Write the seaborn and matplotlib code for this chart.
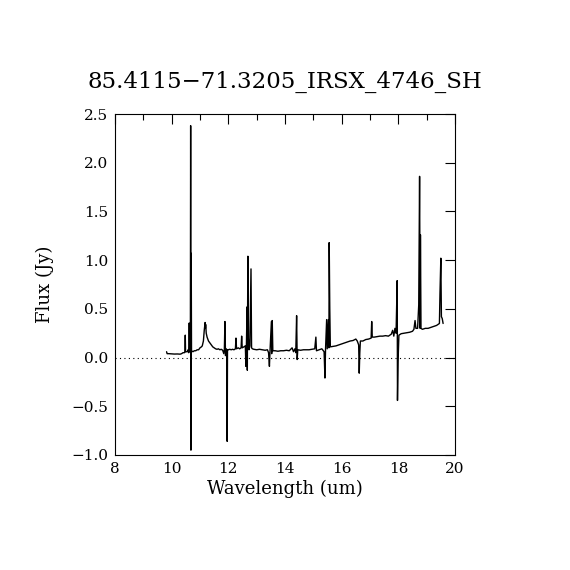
import matplotlib
matplotlib.use("Agg")
import matplotlib.pyplot as plt
from matplotlib.ticker import MultipleLocator, FuncFormatter
import seaborn as sns
import pandas as pd

title = "85.4115\u221271.3205_IRSX_4746_SH"
x_label = "Wavelength (um)"
y_label = "Flux (Jy)"

wavelength = [
    9.82, 9.84, 9.90, 10.00, 10.10, 10.20, 10.30, 10.35, 10.40, 10.45,
    10.47, 10.48, 10.49, 10.55, 10.58, 10.60, 10.62, 10.64, 10.66, 10.67,
    10.68, 10.69, 10.70, 10.75, 10.80, 10.85, 10.90, 10.95, 11.00, 11.05,
    11.08, 11.12, 11.15, 11.17, 11.18, 11.19, 11.20, 11.22, 11.25, 11.30,
    11.35, 11.40, 11.45, 11.50, 11.55, 11.60, 11.65, 11.70, 11.75, 11.80,
    11.84, 11.86, 11.88, 11.90, 11.92, 11.95, 11.96, 11.97, 12.00, 12.05,
    12.10, 12.15, 12.20, 12.25, 12.27, 12.29, 12.35, 12.40, 12.45, 12.47,
    12.49, 12.55, 12.60, 12.62, 12.64, 12.66, 12.67, 12.69, 12.71, 12.73,
    12.76, 12.80, 12.82, 12.85, 12.90, 13.00, 13.10, 13.20, 13.30, 13.38,
    13.42, 13.45, 13.47, 13.50, 13.52, 13.53, 13.55, 13.57, 13.65, 13.75,
    13.85, 13.95, 14.05, 14.15, 14.25, 14.30, 14.35, 14.38, 14.41, 14.43,
    14.45, 14.55, 14.65, 14.75, 14.85, 14.95, 15.05, 15.09, 15.11, 15.20,
    15.30, 15.38, 15.41, 15.43, 15.47, 15.49, 15.53, 15.55, 15.56, 15.58,
    15.60, 15.70, 15.80, 15.90, 16.00, 16.10, 16.20, 16.30, 16.40, 16.50,
    16.55, 16.60, 16.62, 16.64, 16.66, 16.75, 16.85, 16.95, 17.04, 17.06,
    17.08, 17.15, 17.25, 17.35, 17.45, 17.55, 17.65, 17.75, 17.80, 17.84,
    17.88, 17.92, 17.96, 17.97, 17.99, 18.02, 18.10, 18.20, 18.30, 18.40,
    18.50, 18.55, 18.59, 18.62, 18.68, 18.72, 18.75, 18.77, 18.78, 18.80,
    18.85, 18.95, 19.05, 19.15, 19.25, 19.35, 19.45, 19.47, 19.50, 19.52,
    19.55, 19.58,
]

flux = [
    0.06, 0.04, 0.040, 0.038, 0.036, 0.037, 0.035, 0.04, 0.05, 0.05,
    0.06, 0.23, 0.06, 0.06, 0.08, 0.05, 0.355, 0.06, 0.07, 2.38,
    -0.95, 1.07, 0.07, 0.06, 0.07, 0.07, 0.08, 0.08, 0.10, 0.11,
    0.12, 0.17, 0.28, 0.33, 0.36, 0.30, 0.34, 0.25, 0.21, 0.17,
    0.15, 0.13, 0.11, 0.10, 0.09, 0.085, 0.09, 0.08, 0.085, 0.075,
    0.04, 0.08, 0.37, 0.02, 0.09, 0.08, -0.86, 0.08, 0.08, 0.085,
    0.08, 0.085, 0.08, 0.09, 0.20, 0.09, 0.10, 0.09, 0.10, 0.22,
    0.10, 0.11, 0.12, -0.09, 0.15, 0.52, -0.13, 1.04, 0.20, 0.08,
    0.12, 0.91, 0.10, 0.09, 0.085, 0.08, 0.085, 0.08, 0.075, 0.08,
    0.05, -0.09, 0.06, 0.25, 0.37, 0.04, 0.38, 0.07, 0.07, 0.065,
    0.07, 0.07, 0.075, 0.07, 0.10, 0.06, 0.09, 0.05, 0.43, -0.02,
    0.08, 0.075, 0.08, 0.08, 0.08, 0.085, 0.09, 0.21, 0.07, 0.08,
    0.09, 0.06, -0.21, 0.08, 0.39, 0.09, 0.39, 0.10, 1.18, 0.51,
    0.11, 0.115, 0.12, 0.13, 0.14, 0.15, 0.16, 0.17, 0.175, 0.19,
    0.17, 0.13, -0.16, 0.05, 0.17, 0.17, 0.185, 0.19, 0.20, 0.37,
    0.21, 0.21, 0.215, 0.22, 0.22, 0.225, 0.22, 0.24, 0.28, 0.22,
    0.30, 0.25, 0.79, -0.44, -0.04, 0.23, 0.245, 0.25, 0.255, 0.26,
    0.27, 0.29, 0.38, 0.30, 0.30, 0.54, 1.86, 0.30, 1.26, 0.30,
    0.29, 0.30, 0.30, 0.31, 0.32, 0.33, 0.35, 0.66, 1.02, 0.42,
    0.40, 0.35,
]

df = pd.DataFrame({"wavelength": wavelength, "flux": flux})

sns.set_theme(style="white")
plt.rcParams["font.family"] = ["DejaVu Serif"]
plt.rcParams["axes.unicode_minus"] = True

fig = plt.figure(figsize=(5.7, 5.7), dpi=100)
ax = fig.add_axes([115 / 570, 1 - 455 / 570, 340 / 570, 341 / 570])

sns.lineplot(data=df, x="wavelength", y="flux", ax=ax, sort=False,
             estimator=None, color="black", linewidth=1.0)
ax.axhline(0.0, color="black", linestyle=(0, (1, 3)), linewidth=0.8)

ax.set_xlim(8, 20)
ax.set_ylim(-1.0, 2.5)
ax.xaxis.set_major_locator(MultipleLocator(2))
ax.xaxis.set_minor_locator(MultipleLocator(1))
ax.yaxis.set_major_locator(MultipleLocator(0.5))
ax.yaxis.set_major_formatter(
    FuncFormatter(lambda v, p: f"{v:.1f}".replace("-", "\u2212")))
ax.tick_params(axis="both", which="both", direction="in", top=True,
               right=True, colors="black", labelsize=11, pad=5)
ax.tick_params(which="major", length=7, width=0.8)
ax.tick_params(which="minor", length=4, width=0.8)
for s in ax.spines.values():
    s.set_color("black")
    s.set_linewidth(0.8)

ax.set_xlabel(x_label, fontsize=13, color="black", labelpad=3)
ax.set_ylabel(y_label, fontsize=13, color="black", labelpad=12)
fig.text(0.5, 1 - 82 / 570, title, fontsize=16.5, ha="center", va="center",
         color="black")

fig.savefig("out.png", dpi=100, facecolor="white")
